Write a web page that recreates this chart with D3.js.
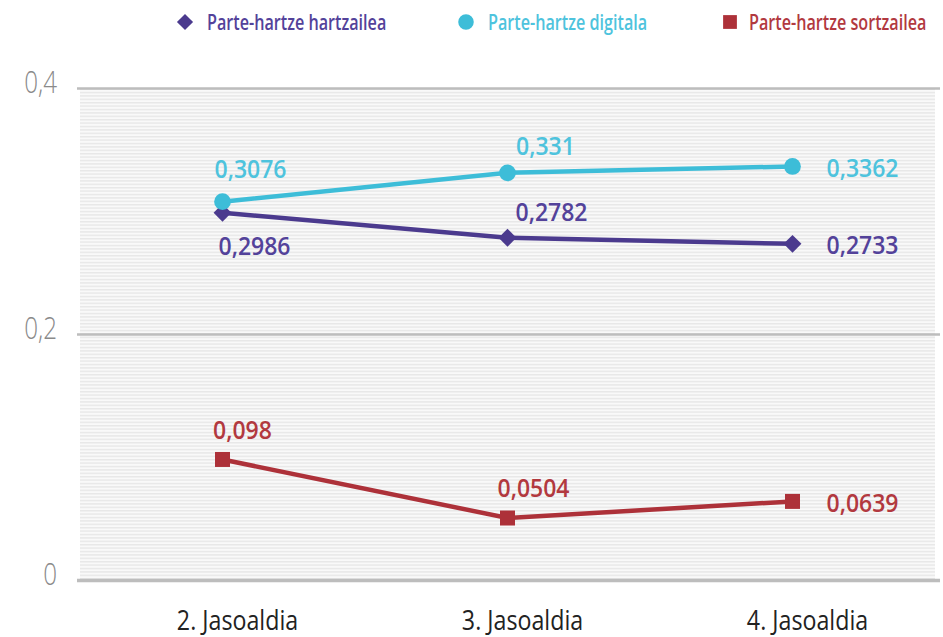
<!DOCTYPE html>
<html><head><meta charset="utf-8">
<script src="https://cdn.jsdelivr.net/npm/d3@7"></script>
<style>
html,body{margin:0;padding:0;background:#fff;}
svg{display:block;}
text{font-family:"Open Sans","Noto Sans",sans-serif;}
</style></head>
<body><svg id="c" width="943" height="637"></svg>
<script>
const categories = ["2. Jasoaldia", "3. Jasoaldia", "4. Jasoaldia"];
const hartzailea = [0.2986, 0.2782, 0.2733];
const digitala = [0.3076, 0.331, 0.3362];
const sortzailea = [0.098, 0.0504, 0.0639];
const seriesNames = ["Parte-hartze hartzailea", "Parte-hartze digitala", "Parte-hartze sortzailea"];
const yTicks = [0, 0.2, 0.4];
const yTickLabels = ["0", "0,2", "0,4"];

const svg = d3.select("#c");
const x = d3.scaleBand().domain(categories).range([80, 935]);
const y = d3.scaleLinear().domain([0, 0.4]).range([580, 88]);

// squeeze text horizontally (condensed look)
function squeeze(sel, sx) {
  sel.each(function () {
    const t = d3.select(this);
    const px = +t.attr("x") || 0, py = +t.attr("y") || 0;
    t.attr("x", 0).attr("y", 0).attr("transform", `translate(${px},${py}) scale(${sx},1)`);
  });
}

// striped background
const defs = svg.append("defs");
const pat = defs.append("pattern").attr("id", "stripes").attr("patternUnits", "userSpaceOnUse")
  .attr("width", 8).attr("height", 3.4);
pat.append("rect").attr("width", 8).attr("height", 3.4).attr("fill", "#f9f9f9");
pat.append("rect").attr("width", 8).attr("height", 1.4).attr("fill", "#e7e7e7");
svg.append("rect").attr("x", 80).attr("y", y(0.4)).attr("width", 855)
  .attr("height", y(0) - y(0.4)).attr("fill", "url(#stripes)");

// gridlines + y labels
const yAxis = d3.axisLeft(y).tickValues(yTicks).tickSize(-(940 - 77)).tickFormat((d, i) => yTickLabels[i]);
const gy = svg.append("g").attr("transform", "translate(77,0)").call(yAxis);
gy.select(".domain").remove();
gy.selectAll(".tick line").attr("stroke", "#bdbdbd").attr("stroke-width", d => d === 0 ? 3.5 : 2.5);
gy.selectAll(".tick text").attr("x", -20).attr("dy", null).attr("y", 4).attr("fill", "#8a8a8a")
  .style("font-weight", "300").attr("font-size", 31).attr("text-anchor", "end");
squeeze(gy.selectAll(".tick text"), 0.78);

// x axis labels
const xAxis = d3.axisBottom(x).tickSize(0);
const gx = svg.append("g").attr("transform", `translate(0,${y(0)})`).call(xAxis);
gx.select(".domain").remove();
gx.selectAll(".tick text").attr("x", 15).attr("y", 50).attr("dy", null).attr("fill", "#222")
  .attr("font-size", 27).style("font-weight", "400");
squeeze(gx.selectAll(".tick text"), 0.86);

const cx = d => x(d) + x.bandwidth() / 2;
const series = [
  {name: seriesNames[0], vals: hartzailea, color: "#4b3a8e", text: "#53429a", shape: d3.symbolSquare, size: 160, rot: 45,
   place: [[32, 42], [44, -17], [70, 10]]},
  {name: seriesNames[1], vals: digitala, color: "#3dbdd8", text: "#4ec3dd", shape: d3.symbolCircle, size: 220, rot: 0,
   place: [[28, -24], [38, -18], [70, 11]]},
  {name: seriesNames[2], vals: sortzailea, color: "#ad3139", text: "#b2393f", shape: d3.symbolSquare, size: 225, rot: 0,
   place: [[20, -20], [26, -21], [70, 11]]}
];
const fmt = v => String(v).replace(".", ",");
const line = d3.line().x((d, i) => cx(categories[i])).y(d => y(d));

series.forEach(s => {
  svg.append("path").datum(s.vals).attr("d", line).attr("fill", "none")
    .attr("stroke", s.color).attr("stroke-width", 4.5);
});
series.forEach(s => {
  const g = svg.append("g");
  g.selectAll("path.m").data(s.vals).join("path")
    .attr("transform", (d, i) => `translate(${cx(categories[i])},${y(d)}) rotate(${s.rot})`)
    .attr("d", d3.symbol().type(s.shape).size(s.size)).attr("fill", s.color);
  const tx = g.selectAll("text").data(s.vals).join("text")
    .attr("x", (d, i) => cx(categories[i]) + s.place[i][0])
    .attr("y", (d, i) => y(d) + s.place[i][1])
    .attr("text-anchor", "middle").attr("font-size", 25).style("font-weight", "600")
    .attr("fill", s.text).text(d => fmt(d));
  squeeze(tx, 0.92);
});

// legend
const legX = [185, 466, 730];
const legSize = [130, 190, 190];
series.forEach((s, i) => {
  svg.append("path").attr("transform", `translate(${legX[i]},22) rotate(${s.rot})`)
    .attr("d", d3.symbol().type(s.shape).size(legSize[i])).attr("fill", s.color);
  const t = svg.append("text").attr("x", legX[i] + (i === 2 ? 19 : 22)).attr("y", 29.5)
    .attr("font-size", 21).style("font-weight", "600")
    .attr("fill", s.text).text(s.name);
  squeeze(t, 0.77);
});
</script></body></html>
